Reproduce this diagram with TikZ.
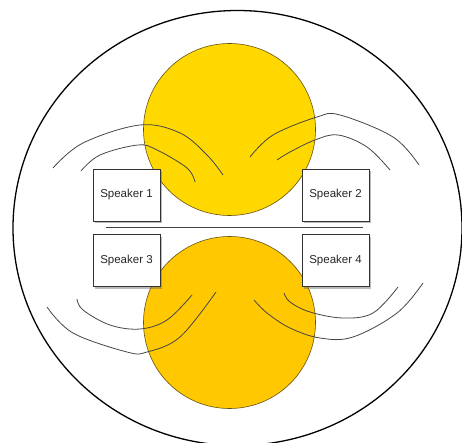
\documentclass[tikz,border=0pt]{standalone}
\usepackage{fontspec}
\setmainfont{Liberation Sans}
\usetikzlibrary{shadows}
\definecolor{topyel}{RGB}{255,216,0}
\definecolor{botyel}{RGB}{255,200,0}
\definecolor{rimcol}{RGB}{100,80,20}
\definecolor{wavecol}{RGB}{70,70,70}
\tikzset{
  spk/.style={draw=black!80, fill=white, line width=0.7pt, minimum width=67pt, minimum height=52pt,
    inner sep=0pt, font=\fontsize{11.5}{13}\selectfont, text=black!85,
    drop shadow={shadow xshift=1.5pt, shadow yshift=-2.5pt, opacity=0.45, fill=black!60}},
  ball/.style={circle, draw=rimcol, line width=0.6pt, minimum size=172pt, inner sep=0pt},
  wave/.style={draw=wavecol, line width=0.8pt},
}
\begin{document}
\begin{tikzpicture}[x=1pt,y=-1pt]
\useasboundingbox (0,0) rectangle (462,443);
% outer ellipse
\draw[line width=1.3pt] (237.5,228) ellipse [x radius=224.5, y radius=217.5];
% heads
\node[ball, fill=topyel] (top) at (229.5,129.5) {};
\node[ball, fill=botyel] (bot) at (229.5,322.5) {};
% divider line
\coordinate (dl) at (106,227);
\coordinate (dr) at (363,227);
\draw[black!75, line width=0.9pt] (dl) -- (dr);
% speakers
\node[spk] (s1) at (126.5,195) {Speaker 1};
\node[spk] (s2) at (335.5,195) {Speaker 2};
\node[spk] (s3) at (126.5,260.5) {Speaker 3};
\node[spk] (s4) at (335.5,260.5) {Speaker 4};
% waves speaker 1
\draw[wave] plot[smooth, tension=0.6] coordinates {(53,168) (83,143) (140,125) (180,133) (207,155) (223,175)};
\draw[wave] plot[smooth, tension=0.6] coordinates {(81,171) (100,155) (138,145) (157,150) (187,168) (195,182)};
% waves speaker 2
\draw[wave] plot[smooth, tension=0.6] coordinates {(250,157) (273,135) (317,117) (340,115) (393,137) (419,165)};
\draw[wave] plot[smooth, tension=0.6] coordinates {(277,160) (290,152) (315,140) (338,135) (367,147) (390,170)};
% waves speaker 3
\draw[wave] plot[smooth, tension=0.6] coordinates {(47,307) (73,333) (127,352) (147,352) (180,337) (216,292)};
\draw[wave] plot[smooth, tension=0.6] coordinates {(77,299) (83,310) (110,325) (140,329) (167,320) (192,295)};
% waves speaker 4
\draw[wave] plot[smooth, tension=0.6] coordinates {(254,300) (267,313) (290,328) (320,338) (353,337) (397,313) (423,283)};
\draw[wave] plot[smooth, tension=0.6] coordinates {(284,293) (290,302) (310,312) (343,318) (373,313) (398,287)};
\end{tikzpicture}
\end{document}
